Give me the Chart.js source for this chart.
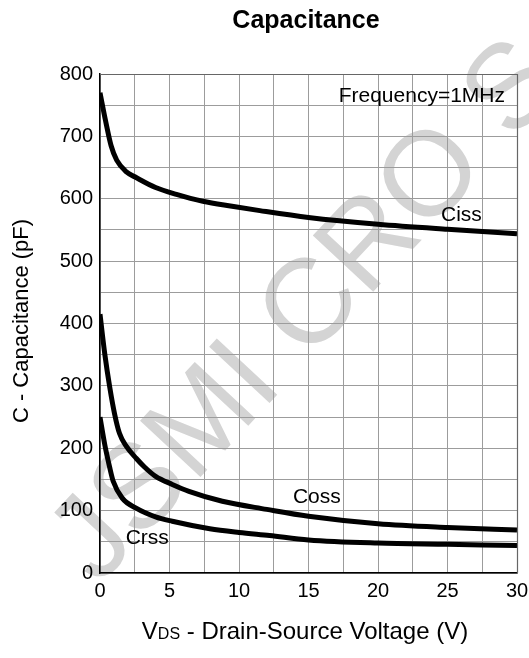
<!DOCTYPE html>
<html>
<head>
<meta charset="utf-8">
<script src="https://cdn.jsdelivr.net/npm/chart.js@4"></script>
<style>
    html, body { margin: 0; padding: 0; background: #fff; }
    #wrap { position: relative; width: 529px; height: 658px; }
</style>
</head>
<body>
<div id="wrap"><canvas id="capChart"></canvas></div>
<script>
// Capacitance vs VDS (pF), read at these drain-source voltages
const vdsCiss = [0, 0.4, 0.8, 1.2, 1.9, 2.6, 4, 5.5, 7.4, 9.5, 11.5, 15, 20, 25, 30];
const ciss    = [770, 725, 685, 662, 643, 634, 618, 607, 596, 588, 581, 570, 559, 551, 544];

const vdsCoss = [0, 0.35, 0.7, 1.05, 1.4, 1.9, 2.6, 3.2, 4, 5.2, 6.4, 8.8, 12, 15, 20, 25, 30];
const coss    = [415, 350, 298, 255, 224, 203, 184, 170, 155, 142, 131, 115, 102, 91, 79, 73, 69];

const vdsCrss = [0, 0.35, 0.68, 0.95, 1.6, 2.6, 4, 5.2, 7.9, 10, 12.2, 15, 20, 25, 30];
const crss    = [250, 205, 171, 147, 120, 104, 90, 83, 71, 65, 60, 53, 48, 46, 44];

const xTicks = [0, 5, 10, 15, 20, 25, 30];
const yTicks = [0, 100, 200, 300, 400, 500, 600, 700, 800];

const FONT = "'Liberation Sans', Arial, sans-serif";

function pts(xs, ys) {
    return xs.map((x, i) => ({ x: x, y: ys[i] }));
}

function curve(label, xs, ys) {
    return {
        label: label,
        data: pts(xs, ys),
        borderColor: '#000',
        borderWidth: 5,
        pointRadius: 0,
        cubicInterpolationMode: 'monotone',
        fill: false
    };
}

// Faint diagonal watermark, drawn first so everything sits on top of it
const watermark = {
    id: 'watermark',
    beforeDraw(chart) {
        const ctx = chart.ctx;
        ctx.save();
        ctx.translate(74, 564);
        ctx.rotate(-47 * Math.PI / 180);
        ctx.font = `120px ${FONT}`;
        ctx.fillStyle = '#d4d4d4';
        ctx.textBaseline = 'middle';
        ctx.fillText('JSMI CRO S', 0, 0);
        ctx.restore();
    }
};

// Title, frame, axis titles and curve labels
const labels = {
    id: 'labels',
    afterDraw(chart) {
        const ctx = chart.ctx;
        const xs = chart.scales.x, ys = chart.scales.y;
        const area = chart.chartArea;
        ctx.save();
        ctx.fillStyle = '#000';
        ctx.textBaseline = 'middle';

        ctx.textAlign = 'center';
        ctx.font = `bold 25px ${FONT}`;
        ctx.fillText('Capacitance', 306, 21);

        // frame top/right
        ctx.strokeStyle = '#666';
        ctx.lineWidth = 1.2;
        ctx.beginPath();
        ctx.moveTo(area.left, area.top + 0.5);
        ctx.lineTo(area.right + 0.5, area.top + 0.5);
        ctx.lineTo(area.right + 0.5, area.bottom);
        ctx.stroke();

        ctx.font = `21px ${FONT}`;
        ctx.textAlign = 'right';
        ctx.fillText('Frequency=1MHz', area.right - 12, ys.getPixelForValue(765));
        ctx.textAlign = 'center';
        ctx.fillText('Ciss', xs.getPixelForValue(26.0), ys.getPixelForValue(573));
        ctx.fillText('Coss', xs.getPixelForValue(15.6), ys.getPixelForValue(122));
        ctx.fillText('Crss', xs.getPixelForValue(3.4), ys.getPixelForValue(55));

        // y axis title
        ctx.save();
        ctx.translate(22, 321);
        ctx.rotate(-Math.PI / 2);
        ctx.font = `22px ${FONT}`;
        ctx.fillText('C - Capacitance (pF)', 0, 0);
        ctx.restore();

        // x axis title with subscript
        const main = ' - Drain-Source Voltage (V)';
        ctx.font = `24px ${FONT}`;
        const wV = ctx.measureText('V').width;
        const wMain = ctx.measureText(main).width;
        ctx.font = `16px ${FONT}`;
        const wSub = ctx.measureText('DS').width;
        const x0 = 305 - (wV + wSub + wMain) / 2;
        const yT = 632;
        ctx.textAlign = 'left';
        ctx.font = `24px ${FONT}`;
        ctx.fillText('V', x0, yT);
        ctx.font = `16px ${FONT}`;
        ctx.fillText('DS', x0 + wV, yT + 3);
        ctx.font = `24px ${FONT}`;
        ctx.fillText(main, x0 + wV + wSub, yT);
        ctx.restore();
    }
};

new Chart(document.getElementById('capChart'), {
    type: 'line',
    data: {
        datasets: [
            curve('Ciss', vdsCiss, ciss),
            curve('Coss', vdsCoss, coss),
            curve('Crss', vdsCrss, crss)
        ]
    },
    options: {
        responsive: true,
        maintainAspectRatio: false,
        animation: false,
        layout: { padding: { top: 74, right: 12, left: 0, bottom: 0 } },
        plugins: {
            legend: { display: false },
            tooltip: { enabled: false },
            title: { display: false }
        },
        scales: {
            x: {
                type: 'linear',
                min: 0,
                max: 30,
                afterFit(scale) {
                    scale.height = 85;
                    scale.paddingLeft = 0;
                    scale.paddingRight = 0;
                },
                afterBuildTicks(scale) {
                    scale.ticks = [];
                    for (let v = 0; v <= 30; v += 2.5) scale.ticks.push({ value: v });
                },
                ticks: {
                    color: '#000',
                    font: { family: FONT, size: 20 },
                    padding: 6,
                    maxRotation: 0,
                    autoSkip: false,
                    callback: v => xTicks.includes(v) ? String(v) : ''
                },
                grid: { color: '#9c9c9c', lineWidth: 1, drawTicks: false },
                border: { color: '#000', width: 1.5 }
            },
            y: {
                min: 0,
                max: 800,
                afterFit(scale) {
                    scale.width = 100;
                    scale.paddingTop = 0;
                    scale.paddingBottom = 0;
                },
                afterBuildTicks(scale) {
                    scale.ticks = [];
                    for (let v = 0; v <= 800; v += 50) scale.ticks.push({ value: v });
                },
                ticks: {
                    color: '#000',
                    font: { family: FONT, size: 20 },
                    padding: 7,
                    autoSkip: false,
                    callback: v => yTicks.includes(v) ? String(v) : ''
                },
                grid: { color: '#9c9c9c', lineWidth: 1, drawTicks: false },
                border: { color: '#000', width: 1.5 }
            }
        }
    },
    plugins: [watermark, labels]
});
</script>
</body>
</html>
